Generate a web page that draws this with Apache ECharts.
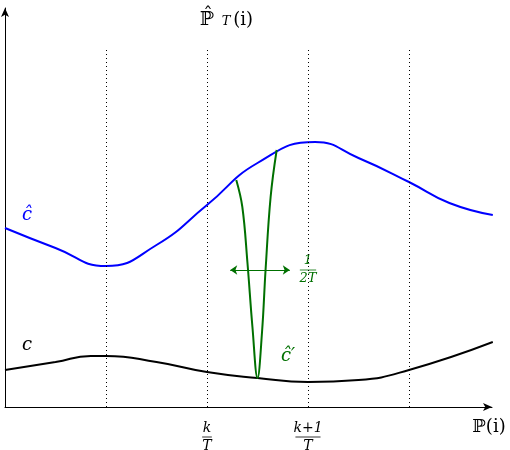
<!DOCTYPE html>
<html><head><meta charset="utf-8">
<script src="https://cdn.jsdelivr.net/npm/echarts@6/dist/echarts.min.js"></script>
<style>html,body{margin:0;padding:0;background:#fff}#c{width:510px;height:450px}</style>
</head><body><div id="c"></div>
<script>
var blueHat = [[0,179],[0.5,159],[1,141],[1.5,162],[2,202],[2.5,244],[3.07,265],[3.5,249],[4,225],[4.4,204],[4.83,192]];
var blackC = [[0,37],[0.5,45],[0.85,51],[1,51],[1.5,45],[2,35],[2.5,29],[3,25],[3.5,27],[4,37],[4.83,65]];
var greenC = [[2.29,227],[2.35,200],[2.40,145],[2.45,80],[2.50,29],[2.545,75],[2.58,137],[2.63,210],[2.69,257]];
var dotX = [1,2,3,4];
var arrowSpan = [2.23,2.82,137];

var chart = echarts.init(document.getElementById('c'));
var serif = 'DejaVu Serif';
chart.setOption({
  animation:false,
  grid:{left:5,right:18,top:8,bottom:43},
  xAxis:{type:'value',min:0,max:4.822,splitLine:{show:false},axisTick:{show:false},axisLabel:{show:false},
    axisLine:{lineStyle:{color:'#000',width:1},symbol:['none','arrow'],symbolSize:[6,9]}},
  yAxis:{type:'value',min:0,max:399,splitLine:{show:false},axisTick:{show:false},axisLabel:{show:false},
    axisLine:{lineStyle:{color:'#000',width:1},symbol:['none','arrow'],symbolSize:[6,9]}},
  series:[
    {type:'line',data:[],markLine:{silent:true,symbol:'none',label:{show:false},
      lineStyle:{color:'#000',type:[1,3],width:1},
      data:dotX.map(function(x){return [{coord:[x,0]},{coord:[x,357]}];})}},
    {type:'line',data:blueHat,smooth:0.5,showSymbol:false,lineStyle:{color:'#0000ff',width:2}},
    {type:'line',data:blackC,smooth:0.5,showSymbol:false,lineStyle:{color:'#000',width:2}},
    {type:'line',data:greenC,smooth:0.4,showSymbol:false,lineStyle:{color:'#007000',width:2},
      markLine:{silent:true,symbol:['arrow','arrow'],symbolSize:7,label:{show:false},
      lineStyle:{color:'#007000',type:'solid',width:1},
      data:[[{coord:[arrowSpan[0],arrowSpan[2]]},{coord:[arrowSpan[1],arrowSpan[2]]}]]}}
  ]
});

function px(u,v){return chart.convertToPixel({gridIndex:0},[u,v]);}
function txt(x,y,s,color,size,italic){
  return {type:'text',x:x,y:y,style:{text:s,fill:color||'#000',font:(italic===false?'':'italic ')+(size||17)+'px '+serif,align:'center',verticalAlign:'middle'}};
}
function frac(x,y,num,den,color,size){
  var w=Math.max(num.length,den.length)*size*0.55+2;
  return [txt(x,y-9,num,color,size),
    {type:'line',shape:{x1:x-w/2,y1:y,x2:x+w/2,y2:y},style:{stroke:color,lineWidth:0.8}},
    txt(x,y+9,den,color,size)];
}
var g=[];
g.push(txt(207,20,'ℙ̂',null,19,false));
g.push(txt(226,22,'T',null,13));
g.push(txt(226,20,'      (i)',null,18,false));
g.push(txt(489,427,'ℙ(i)',null,18,false));
g.push(txt(27,215,'ĉ','#0000ff',18));
g.push(txt(27,345,'c','#000',18));
g.push(txt(288,356,"ĉ′",'#007000',18));
var p2=px(2,0),p3=px(3,0);
g=g.concat(frac(p2[0],437,'k','T','#000',14));
g=g.concat(frac(p3[0],437,'k+1','T','#000',14));
g=g.concat(frac(308,270,'1','2T','#007000',13));
chart.setOption({graphic:g});
</script></body></html>
